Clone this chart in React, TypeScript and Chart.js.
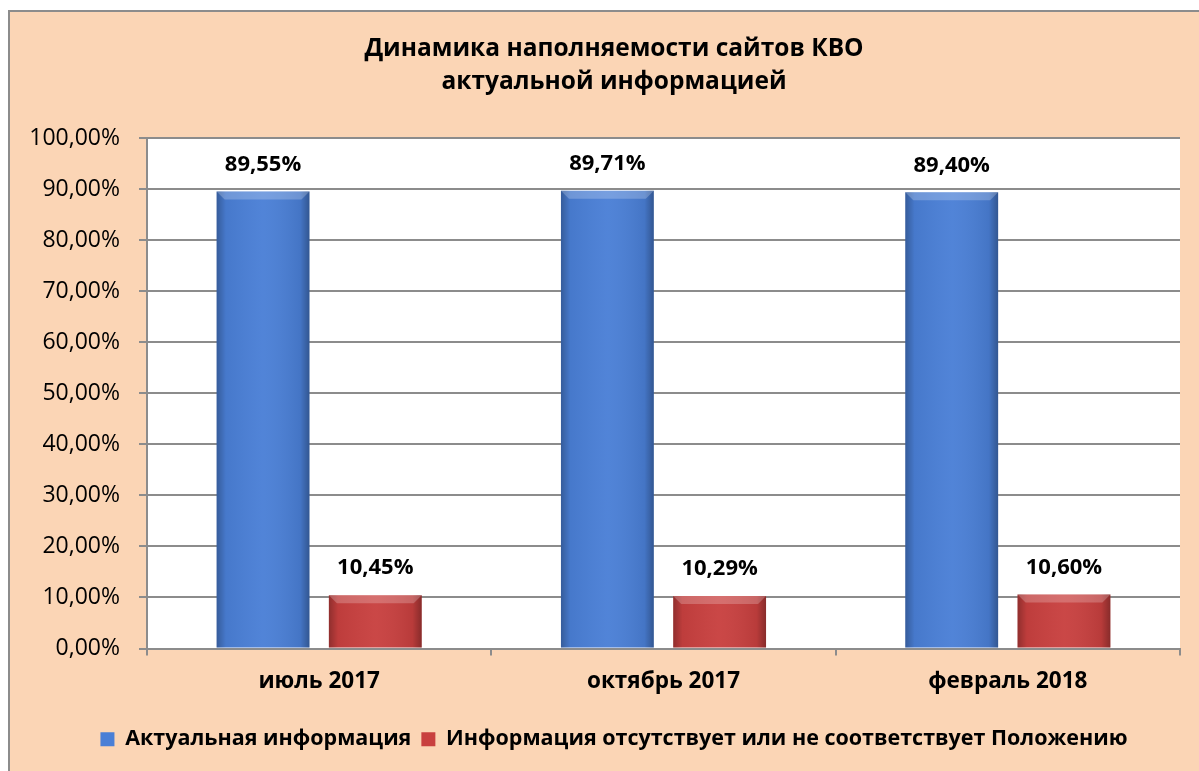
import React, { useEffect, useRef } from 'react';
import { Chart, registerables } from 'chart.js';

Chart.register(...registerables);

const categories = ['июль 2017', 'октябрь 2017', 'февраль 2018'];
const actualValues = [89.55, 89.71, 89.4];
const missingValues = [10.45, 10.29, 10.6];
const seriesNames = [
  'Актуальная информация',
  'Информация отсутствует или не соответствует Положению',
];
const titleLines = ['Динамика наполняемости сайтов КВО', 'актуальной информацией'];
const yMin = 0;
const yMax = 100;
const yStep = 10;

const FONT = '"Open Sans", "Noto Sans", sans-serif';
const fmt = (v: number) => v.toFixed(2).replace('.', ',') + '%';

const plotBackground = {
  id: 'plotBackground',
  beforeDraw(chart: any) {
    const { ctx, chartArea } = chart;
    ctx.save();
    ctx.fillStyle = '#ffffff';
    ctx.fillRect(chartArea.left, chartArea.top, chartArea.right - chartArea.left, chartArea.bottom - chartArea.top);
    ctx.restore();
  },
};

const barShading = {
  id: 'barShading',
  afterDatasetsDraw(chart: any) {
    const { ctx } = chart;
    chart.data.datasets.forEach((_ds: any, di: number) => {
      const meta = chart.getDatasetMeta(di);
      meta.data.forEach((el: any) => {
        const { x, y, base, width } = el.getProps(['x', 'y', 'base', 'width'], true);
        const left = x - width / 2;
        const h = base - y;
        ctx.save();
        const g = ctx.createLinearGradient(left, 0, left + width, 0);
        g.addColorStop(0, 'rgba(0,0,0,0.28)');
        g.addColorStop(0.1, 'rgba(0,0,0,0.05)');
        g.addColorStop(0.5, 'rgba(255,255,255,0.04)');
        g.addColorStop(0.9, 'rgba(0,0,0,0.08)');
        g.addColorStop(1, 'rgba(0,0,0,0.32)');
        ctx.fillStyle = g;
        ctx.fillRect(left, y, width, h);
        const bev = Math.min(8, h / 2);
        ctx.beginPath();
        ctx.moveTo(left, y);
        ctx.lineTo(left + width, y);
        ctx.lineTo(left + width - bev, y + bev);
        ctx.lineTo(left + bev, y + bev);
        ctx.closePath();
        ctx.fillStyle = 'rgba(255,255,255,0.22)';
        ctx.fill();
        ctx.restore();
      });
    });
  },
};

const dataLabels = {
  id: 'dataLabels',
  afterDatasetsDraw(chart: any) {
    const { ctx } = chart;
    ctx.save();
    ctx.font = `bold 22px ${FONT}`;
    ctx.fillStyle = '#000000';
    ctx.textAlign = 'center';
    ctx.textBaseline = 'middle';
    chart.data.datasets.forEach((ds: any, di: number) => {
      const meta = chart.getDatasetMeta(di);
      meta.data.forEach((el: any, i: number) => {
        const { x, y } = el.getProps(['x', 'y'], true);
        ctx.fillText(fmt(ds.data[i]), x, y - 27);
      });
    });
    ctx.restore();
  },
};

export default function App() {
  const canvasRef = useRef<HTMLCanvasElement>(null);

  useEffect(() => {
    const canvas = canvasRef.current;
    if (!canvas) return;
    const chart = new Chart(canvas, {
      type: 'bar',
      data: {
        labels: categories,
        datasets: [
          {
            label: seriesNames[0],
            data: actualValues,
            backgroundColor: '#4a7fd6',
            borderWidth: 0,
            categoryPercentage: 0.652,
            barPercentage: 0.827,
          },
          {
            label: seriesNames[1],
            data: missingValues,
            backgroundColor: '#c8403f',
            borderWidth: 0,
            categoryPercentage: 0.652,
            barPercentage: 0.827,
          },
        ],
      },
      options: {
        animation: false,
        responsive: true,
        maintainAspectRatio: false,
        layout: { padding: { left: 19, right: 0, top: 0, bottom: 11 } },
        plugins: {
          title: {
            display: true,
            text: titleLines,
            color: '#000000',
            font: { family: FONT, size: 24.5, weight: 'bold', lineHeight: 1.35 },
            padding: { top: 20, bottom: 40 },
          },
          legend: {
            display: true,
            position: 'bottom',
            labels: {
              color: '#000000',
              font: { family: FONT, size: 21.5, weight: 'bold' },
              boxWidth: 14,
              boxHeight: 14,
              padding: 10,
            },
          },
          tooltip: { enabled: false },
        },
        scales: {
          x: {
            grid: {
              display: true,
              offset: true,
              drawOnChartArea: false,
              drawTicks: true,
              tickLength: 7,
              color: '#8c8c8c',
              lineWidth: 2,
            },
            border: { display: true, color: '#8c8c8c', width: 2 },
            ticks: {
              color: '#000000',
              font: { family: FONT, size: 22.5, weight: 'bold' },
              padding: 13,
            },
            afterFit(scale: any) {
              scale.height = 70;
            },
          },
          y: {
            position: 'left',
            min: yMin,
            max: yMax,
            grid: {
              color: '#8c8c8c',
              lineWidth: 2,
              drawTicks: true,
              tickLength: 8,
            },
            border: { display: true, color: '#8c8c8c', width: 2 },
            ticks: {
              stepSize: yStep,
              color: '#000000',
              font: { family: FONT, size: 23 },
              padding: 19,
              callback: (v: any) => fmt(Number(v)),
            },
            afterFit(scale: any) {
              scale.width = 118;
            },
          },
          yRightSpacer: {
            position: 'right',
            display: true,
            min: yMin,
            max: yMax,
            grid: { display: false, drawOnChartArea: false, drawTicks: false },
            border: { display: false },
            ticks: { display: false },
            afterFit(scale: any) {
              scale.width = 19;
            },
          },
        },
      },
      plugins: [plotBackground, barShading, dataLabels],
    });
    return () => chart.destroy();
  }, []);

  return (
    <div
      style={{
        position: 'fixed',
        left: 8,
        top: 10,
        width: 1191,
        height: 761,
        background: '#fbd5b5',
        borderTop: '2px solid #8c8c8c',
        borderLeft: '2px solid #8c8c8c',
        boxSizing: 'border-box',
      }}
    >
      <div style={{ position: 'relative', width: '100%', height: '100%' }}>
        <canvas ref={canvasRef} />
      </div>
    </div>
  );
}
